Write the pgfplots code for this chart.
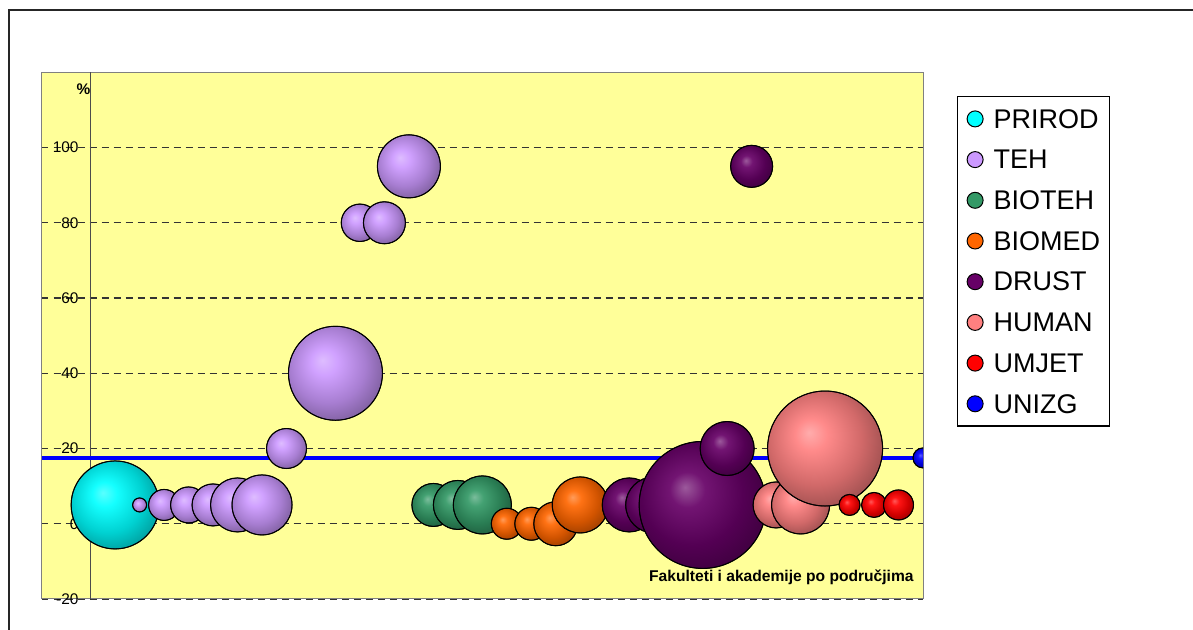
\documentclass[border=0pt]{standalone}
\usepackage{fontspec}
\setmainfont{Liberation Sans}
\usepackage{pgfplots}
\usepackage{pgfplotstable}
\pgfplotsset{compat=1.18}

\definecolor{bgyellow}{RGB}{255,255,153}
\definecolor{cPRIROD}{RGB}{0,255,255}
\definecolor{cTEH}{RGB}{204,153,255}
\definecolor{cBIOTEH}{RGB}{51,153,102}
\definecolor{cBIOMED}{RGB}{255,102,0}
\definecolor{cDRUST}{RGB}{102,0,102}
\definecolor{cHUMAN}{RGB}{255,128,128}
\definecolor{cUMJET}{RGB}{255,0,0}
\definecolor{cUNIZG}{RGB}{0,0,255}
\colorlet{bubcol}{cPRIROD}

% excel-like 3d bubble
\pgfdeclareradialshading[bubcol]{bubble}{\pgfqpoint{-7bp}{7bp}}{%
  color(0bp)=(bubcol!65!white);
  color(7bp)=(bubcol!92!white);
  color(20bp)=(bubcol!82!black);
  color(31bp)=(bubcol!60!black);
  color(50bp)=(bubcol!55!black)}
\pgfdeclareplotmark{blank}{}

% x, y (%), r = bubble radius in px
\pgfplotstableread{
x y r
1 5 44
}\prirod
\pgfplotstableread{
x y r
2 5 7
3 5 15.5
4 5 18
5 5 21
6 5 27
7 5 30
8 20 20
10 40 47
11 80 18.7
12 80 21
13 95 31.5
}\teh
\pgfplotstableread{
x y r
14 5 21.5
15 5 24.5
16 5 29
}\bioteh
\pgfplotstableread{
x y r
17 0 15.5
18 0 16.5
19 0 22
20 5 28
}\biomed
\pgfplotstableread{
x y r
21 5 13
}\drustA
\pgfplotstableread{
x y r
22 5 27
23 5 28
25 5 63.5
26 20 27
27 95 21
}\drust
\pgfplotstableread{
x y r
28 5 23
29 5 29
30 20 57.5
}\human
\pgfplotstableread{
x y r
31 5 10.5
32 5 12.5
33 5 15
}\umjet
\pgfplotstableread{
x y r
34 17.5 10
}\unizg

\pgfplotsset{
  bubble/.style={
    only marks, scatter, mark=blank,
    visualization depends on={0.5*\thisrow{r} \as \rad},
    scatter/@pre marker code/.code={%
      \colorlet{bubcol}{#1}%
      \shade[shading=bubble] (canvas cs:x=0pt,y=0pt) circle[radius=\rad*1pt];%
      \draw[black, line width=0.5pt] (canvas cs:x=0pt,y=0pt) circle[radius=\rad*1pt];},
    scatter/@post marker code/.code={},
    legend image code/.code={\draw[fill=#1, line width=0.5pt] (0pt,0pt) circle[radius=4pt];},
  },
}

\begin{document}
\begin{tikzpicture}
\draw[line width=1pt, black!85] (4.5pt,0pt) -- (4.5pt,310pt) -- (597pt,310pt);
\begin{axis}[
  at={(20.85pt,15.5pt)}, anchor=south west,
  scale only axis, width=440.65pt, height=263.35pt,
  xmin=-2, xmax=34, ymin=-20, ymax=120,
  axis background/.style={fill=bgyellow},
  axis line style={draw=gray, line width=0.5pt},
  xtick=\empty,
  ytick={-20,0,20,40,60,80,100},
  major tick length=0pt,
  ymajorgrids,
  grid style={draw=black!80, line width=0.6pt, dash pattern=on 3.4pt off 2.6pt},
  extra x ticks={0}, extra x tick labels={},
  extra x tick style={xmajorgrids=true, major grid style={solid, draw=black!70, line width=0.5pt}},
  yticklabel style={font=\fontsize{7.7}{9}\selectfont, anchor=east, inner sep=0pt, xshift=18.6pt},
  /pgf/number format/assume math mode=true,
  clip marker paths=true,
  every axis x label/.style={at={(rel axis cs:0.9898,0.0323)}, anchor=base east, inner sep=0pt, font=\fontsize{7.8}{9}\selectfont\bfseries},
  xlabel={Fakulteti i akademije po područjima},
  every axis y label/.style={at={(rel axis cs:0.0556,0.957)}, anchor=base east, inner sep=0pt, font=\fontsize{7.7}{9}\selectfont\bfseries},
  ylabel={\%},
  legend style={at={(1.0386,0.955)}, anchor=north west, draw=black, line width=0.6pt, fill=white,
    inner xsep=4.5pt, inner ysep=6.5pt, row sep=11.05pt, column sep=5pt,
    font=\fontsize{13.5}{13.5}\selectfont,
    nodes={inner sep=0pt, text height=9.3pt, text depth=0pt}},
  legend cell align=left,
]
\addplot[forget plot, cUNIZG, line width=1.75pt] coordinates {(-2,17.5) (34,17.5)};
\addplot[bubble=cPRIROD] table {\prirod};
\addlegendentry{PRIROD}
\addplot[bubble=cTEH] table {\teh};
\addlegendentry{TEH}
\addplot[bubble=cBIOTEH] table {\bioteh};
\addlegendentry{BIOTEH}
\addplot[bubble=cDRUST, forget plot] table {\drustA};
\addplot[bubble=cBIOMED] table {\biomed};
\addlegendentry{BIOMED}
\addplot[bubble=cDRUST] table {\drust};
\addlegendentry{DRUST}
\addplot[bubble=cHUMAN] table {\human};
\addlegendentry{HUMAN}
\addplot[bubble=cUMJET] table {\umjet};
\addlegendentry{UMJET}
\addplot[bubble=cUNIZG] table {\unizg};
\addlegendentry{UNIZG}
\end{axis}
\pgfresetboundingbox
\path[use as bounding box] (0pt,0pt) rectangle (596.5pt,315pt);
\end{tikzpicture}
\end{document}
